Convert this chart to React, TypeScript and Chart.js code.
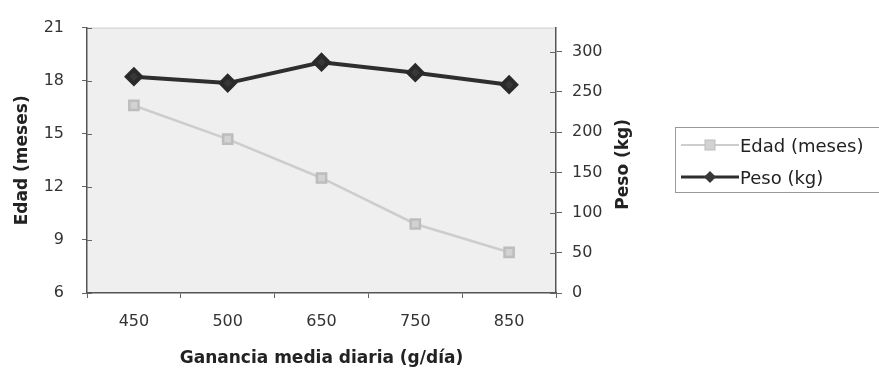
import React, { useEffect, useRef } from "react";
import { Chart, registerables } from "chart.js";

Chart.register(...registerables);

const categories = ["450", "500", "650", "750", "850"];
const edadValues = [16.6, 14.7, 12.5, 9.9, 8.3];
const pesoValues = [269, 261, 287, 274, 259];
const edadTicks = [6, 9, 12, 15, 18, 21];
const pesoTicks = [0, 50, 100, 150, 200, 250, 300];
const pesoTitle = "Peso (kg)";

const FONT = "'DejaVu Sans', 'Liberation Sans', Arial, sans-serif";

const plotBg = {
  id: "plotBg",
  beforeDraw(chart: any) {
    const { ctx, chartArea } = chart;
    ctx.save();
    ctx.fillStyle = "#efefef";
    ctx.fillRect(chartArea.left, chartArea.top, chartArea.right - chartArea.left, chartArea.bottom - chartArea.top);
    ctx.strokeStyle = "#cfcfcf";
    ctx.lineWidth = 1;
    ctx.beginPath();
    ctx.moveTo(chartArea.left, chartArea.top + 0.5);
    ctx.lineTo(chartArea.right, chartArea.top + 0.5);
    ctx.stroke();
    ctx.restore();
  },
  afterDraw(chart: any) {
    const { ctx, chartArea } = chart;
    ctx.save();
    ctx.strokeStyle = "#666";
    ctx.lineWidth = 1;
    const y = chart.scales.y;
    const y1 = chart.scales.y1;
    ctx.beginPath();
    y.ticks.forEach((t: any) => {
      const py = Math.round(y.getPixelForValue(t.value)) + 0.5;
      ctx.moveTo(chartArea.left, py);
      ctx.lineTo(chartArea.left + 5, py);
    });
    y1.ticks.forEach((t: any) => {
      const py = Math.round(y1.getPixelForValue(t.value)) + 0.5;
      ctx.moveTo(chartArea.right - 6, py);
      ctx.lineTo(chartArea.right, py);
    });
    ctx.stroke();
    // right axis title, reading bottom-to-top
    ctx.translate(624, (chartArea.top + chartArea.bottom) / 2 + 4);
    ctx.rotate(-Math.PI / 2);
    ctx.fillStyle = "#222";
    ctx.font = `bold 17px ${FONT}`;
    ctx.textAlign = "center";
    ctx.textBaseline = "middle";
    ctx.fillText(pesoTitle, 0, 0);
    ctx.restore();
  },
};

export default function App() {
  const ref = useRef<HTMLCanvasElement>(null);
  useEffect(() => {
    const chart = new Chart(ref.current!, {
      type: "line",
      data: {
        labels: categories,
        datasets: [
          {
            label: "Edad (meses)",
            data: edadValues,
            yAxisID: "y",
            borderColor: "#cdcdcd",
            backgroundColor: "#cdcdcd",
            borderWidth: 2.5,
            pointStyle: "rect",
            pointRadius: 6.5,
            pointBorderColor: "#bdbdbd",
            pointBackgroundColor: "#d2d2d2",
          },
          {
            label: "Peso (kg)",
            data: pesoValues,
            yAxisID: "y1",
            borderColor: "#2e2e2e",
            backgroundColor: "#2e2e2e",
            borderWidth: 4,
            pointStyle: "rectRot",
            pointRadius: 7,
            pointBorderColor: "#2a2a2a",
            pointBackgroundColor: "#383838",
          },
        ],
      },
      options: {
        animation: false,
        responsive: false,
        maintainAspectRatio: false,
        layout: { padding: { top: 27, right: 243, left: 0, bottom: 0 } },
        plugins: { legend: { display: false }, tooltip: { enabled: false } },
        scales: {
          x: {
            type: "category",
            offset: true,
            grid: { drawOnChartArea: false, offset: true, color: "#666", tickLength: 5 },
            border: { color: "#555", width: 1.5 },
            ticks: { color: "#333", font: { family: FONT, size: 16 }, padding: 14 },
            title: {
              display: true,
              text: "Ganancia media diaria (g/día)",
              color: "#222",
              font: { family: FONT, size: 17, weight: "bold" },
              padding: { top: 0, bottom: 3 },
            },
            afterFit(scale: any) {
              scale.height = 79;
            },
          },
          y: {
            type: "linear",
            position: "left",
            min: 6,
            max: 21,
            afterBuildTicks(scale: any) {
              scale.ticks = edadTicks.map((v) => ({ value: v }));
            },
            grid: { drawOnChartArea: false, color: "#666", tickLength: 5 },
            border: { color: "#555", width: 1.5 },
            ticks: { color: "#333", font: { family: FONT, size: 16 }, padding: 18 },
            title: {
              display: true,
              text: "Edad (meses)",
              color: "#222",
              font: { family: FONT, size: 17, weight: "bold" },
              padding: { top: 12, bottom: 0 },
            },
            afterFit(scale: any) {
              scale.width = 87;
            },
          },
          y1: {
            type: "linear",
            position: "right",
            min: 0,
            max: 330,
            afterBuildTicks(scale: any) {
              scale.ticks = pesoTicks.map((v) => ({ value: v }));
            },
            grid: { drawOnChartArea: false, color: "#666", tickLength: 6 },
            border: { color: "#555", width: 1.5 },
            ticks: { color: "#333", font: { family: FONT, size: 16 }, padding: 10 },
            afterFit(scale: any) {
              scale.width = 80;
            },
          },
        },
      },
      plugins: [plotBg],
    });
    return () => chart.destroy();
  }, []);

  const legendRow = (color: string, width: number, marker: React.ReactNode, text: string) => (
    <div style={{ display: "flex", alignItems: "center", height: 32 }}>
      <svg width={60} height={16} style={{ marginRight: 1 }}>
        <line x1={2} y1={8} x2={60} y2={8} stroke={color} strokeWidth={width} />
        {marker}
      </svg>
      <span style={{ fontFamily: FONT, fontSize: 18, color: "#222" }}>{text}</span>
    </div>
  );

  return (
    <div style={{ position: "fixed", left: 0, top: 0, width: 879, height: 372, background: "#fff" }}>
      <canvas ref={ref} width={879} height={372} style={{ width: 879, height: 372, display: "block" }} />
      <div
        style={{
          position: "absolute",
          left: 675,
          top: 127,
          width: 210,
          height: 66,
          border: "1px solid #999",
          boxSizing: "border-box",
          paddingLeft: 3,
          paddingTop: 1,
        }}
      >
        {legendRow("#cdcdcd", 2, <rect x={26} y={3} width={10} height={10} fill="#d2d2d2" stroke="#bdbdbd" />, "Edad (meses)")}
        {legendRow("#2e2e2e", 3, <polygon points="31,2 37,8 31,14 25,8" fill="#383838" />, "Peso (kg)")}
      </div>
    </div>
  );
}
